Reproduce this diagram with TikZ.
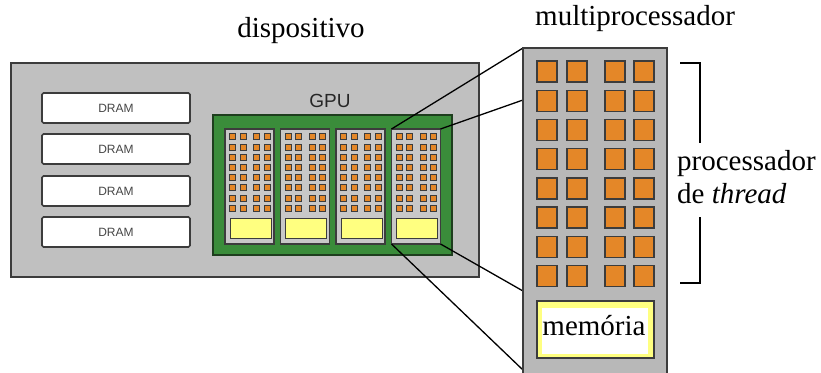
\documentclass[tikz,border=0pt]{standalone}
\usepackage{fontspec}
\setmainfont{Liberation Serif}
\newfontfamily\arialf{Liberation Sans}
\definecolor{bordc}{RGB}{60,60,60}
\definecolor{devgray}{RGB}{192,192,192}
\definecolor{mpgray}{RGB}{184,184,184}
\definecolor{smgray}{RGB}{200,200,200}
\definecolor{gpugreen}{RGB}{58,140,58}
\definecolor{gpuborder}{RGB}{30,62,30}
\definecolor{coreorange}{RGB}{228,135,40}
\definecolor{memyellow}{RGB}{255,255,128}
\definecolor{dramtext}{RGB}{70,70,70}
\begin{document}
\begin{tikzpicture}[x=1pt,y=-1pt,
  box/.style={draw=bordc, line width=1.6pt, inner sep=0pt, outer sep=0pt, anchor=north west},
  dram/.style={box, fill=white, rounded corners=1.5pt, minimum width=148pt, minimum height=30pt,
    font=\arialf\fontsize{12}{14}\selectfont, text=dramtext},
  smcol/.style={box, fill=smgray, line width=1.3pt, minimum width=49pt, minimum height=115pt},
  smcore/.style={draw=bordc, line width=0.8pt, fill=coreorange, inner sep=0pt, outer sep=0pt,
    minimum width=6pt, minimum height=6pt, anchor=center},
  smmem/.style={box, fill=memyellow, line width=1pt, minimum width=41pt, minimum height=20pt},
  bigcore/.style={box, fill=coreorange, line width=1.4pt, minimum width=20pt, minimum height=21pt},
  conn/.style={draw=black, line width=1.3pt},
  brk/.style={draw=black, line width=2.4pt},
  lbl/.style={inner sep=0pt, font=\fontsize{29}{33}\selectfont},
]
\useasboundingbox (0,0) rectangle (821,372);
\clip (0,0) rectangle (821,372);
\fill[white] (0,0) rectangle (821,372);

% device
\node[box, fill=devgray, minimum width=468pt, minimum height=214pt] (dev) at (11,63) {};
\node[lbl, anchor=base] (tdev) at (301,37) {dispositivo};

% DRAM
\node[dram] (d1) at (42,93) {DRAM};
\node[dram] (d2) at (42,134) {DRAM};
\node[dram] (d3) at (42,176) {DRAM};
\node[dram] (d4) at (42,217) {DRAM};

% GPU
\node[box, fill=gpugreen, draw=gpuborder, line width=1.8pt, minimum width=239pt, minimum height=140pt] (gpu) at (213,115) {};
\node[inner sep=0pt, anchor=base, font=\arialf\fontsize{19}{22}\selectfont, text=black!85] (tgpu) at (330,107) {GPU};

\foreach \i in {1,...,4}{
  \pgfmathsetmacro{\cx}{225+55.5*(\i-1)}
  \node[smcol] (sm\i) at (\cx,129) {};
  \foreach \r in {0,...,7}{
    \foreach \c/\dx in {1/7.7,2/18.3,3/31.7,4/42.3}{
      \node[smcore] (sc\i-\r-\c) at (\cx+\dx,136.7+10.2*\r) {};
    }
  }
  \node[smmem] (smm\i) at (\cx+5,218) {};
}

% connectors
\coordinate (mpA) at (523,100);
\coordinate (mpB) at (523,291);
\coordinate (mpC) at (523,370);
\draw[conn] (sm4.north west) -- (523,48) coordinate (mpT);
\draw[conn] (sm4.north east) -- (mpA);
\draw[conn] (sm4.south east) -- (mpB);
\draw[conn] (sm4.south west) -- (mpC);

% multiprocessor
\node[box, fill=mpgray, minimum width=144pt, minimum height=330pt] (mp) at (523,48) {};
\node[lbl, anchor=base west] (tmp) at (535,25) {multiprocessador};
\foreach \r in {0,...,7}{
  \foreach \c/\x in {1/537,2/567,3/605,4/634}{
    \node[bigcore] (bc-\r-\c) at (\x,61+29.2*\r) {};
  }
}
\node[box, fill=memyellow, line width=1.6pt, minimum width=117pt, minimum height=57pt] (mem) at (537,301) {};
\fill[white] (542,308) rectangle (648,354);
\node[lbl, anchor=base] (tmem) at (594,335) {memória};

% bracket
\draw[brk] (680,63) -- (700,63) -- (700,143);
\draw[brk] (700,217) -- (700,283) -- (680,283);
\node[lbl, anchor=base west] (tpt1) at (677,170) {processador};
\node[lbl, anchor=base west] (tpt2) at (677,203) {de \textit{thread}};
\end{tikzpicture}
\end{document}
